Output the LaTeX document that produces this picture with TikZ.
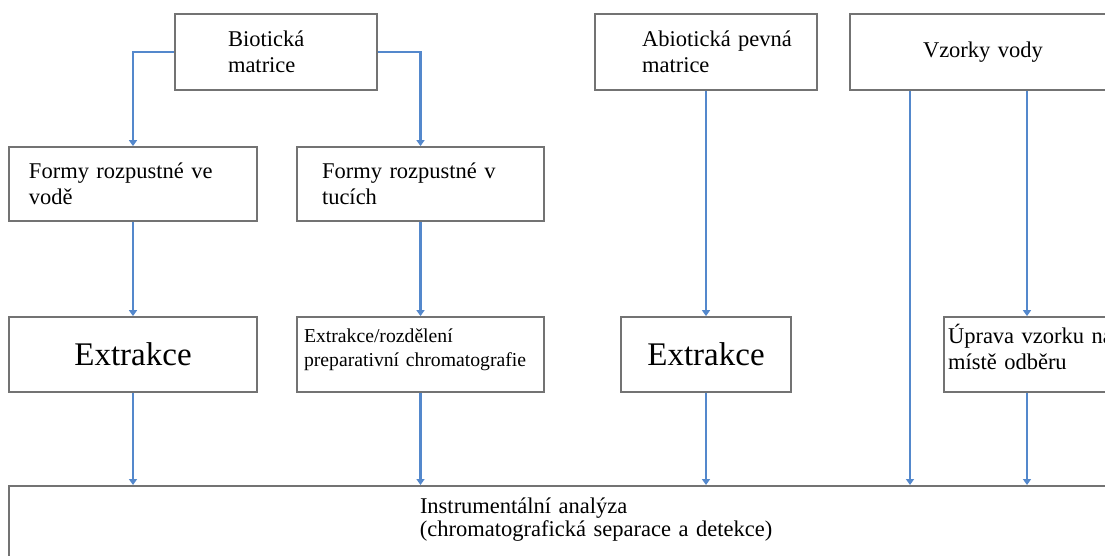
\documentclass[tikz,border=0pt]{standalone}
\usepackage{fontspec}
\setmainfont{Liberation Serif}
\usetikzlibrary{arrows.meta}
\definecolor{boxgray}{RGB}{115,115,115}
\definecolor{linkblue}{RGB}{84,136,204}
\newcommand\normfnt{\fontsize{22.5}{26}\selectfont}
\newcommand\smfnt{\fontsize{19.7}{24}\selectfont}
\newcommand\bigfnt{\fontsize{33}{38}\selectfont}
\newcommand\anfnt{\fontsize{22.5}{23}\selectfont}
\begin{document}
\begin{tikzpicture}[x=1pt,y=-1pt,
  box/.style={draw=boxgray,line width=1.8pt,fill=white,inner sep=0pt,minimum height=75pt,font=\normfnt},
  lbox/.style 2 args={box,text width=#1,align=left,execute at begin node={\leftskip=#2\relax}},
  cbox/.style={box,minimum width=#1,font=\bigfnt},
  link/.style={draw=linkblue,line width=2.2pt,-{Triangle[width=8pt,length=6pt]}}]
  \useasboundingbox (0,0) rectangle (1105,555);
  \clip (0,0) rectangle (1105,555);
  \node[lbox={202pt}{53pt},minimum height=76pt] (bio) at (276,52) {Biotická\\matrice};
  \node[lbox={222pt}{47pt},minimum height=76pt] (abio) at (706,52) {Abiotická pevná\\matrice};
  \node[lbox={300pt}{73pt},minimum height=76pt] (vzorky) at (1000,52) {Vzorky vody};
  \node[lbox={248pt}{20pt},minimum height=74pt] (vodni) at (133,184) {Formy rozpustné ve\\vodě};
  \node[lbox={247pt}{25pt},minimum height=74pt] (tuky) at (420.5,184) {Formy rozpustné v\\tucích};
  \node[cbox=248pt] (extr1) at (133,354.5) {Extrakce};
  \node[lbox={247pt}{7pt},font=\smfnt,text depth=38pt] (extr2) at (420.5,354.5) {Extrakce/rozdělení\\preparativní chromatografie};
  \node[cbox=170pt] (extr3) at (706,354.5) {Extrakce};
  \node[lbox={300pt}{4pt},text depth=42pt] (uprava) at (1094,354.5) {Úprava vzorku na\\místě odběru};
  \node[lbox={1141pt}{411pt},font=\anfnt,anchor=north,inner ysep=12pt,text depth=70pt] (analyza) at (579.5,485) {Instrumentální analýza\\(chromatografická separace a detekce)};
  \draw[link] (bio.west) -| (vodni.north);
  \draw[link] (bio.east) -| (tuky.north);
  \draw[link] (vodni.south) -- (extr1.north);
  \draw[link] (tuky.south) -- (extr2.north);
  \draw[link] (abio.south) -- (extr3.north);
  \draw[link] (extr1.south) -- (extr1.south |- analyza.north);
  \draw[link] (extr2.south) -- (extr2.south |- analyza.north);
  \draw[link] (extr3.south) -- (extr3.south |- analyza.north);
  \draw[link] ([xshift=-90pt]vzorky.south) -- ([xshift=-90pt]vzorky.south |- analyza.north);
  \draw[link] ([xshift=27pt]vzorky.south) -- ([xshift=27pt]vzorky.south |- uprava.north);
  \draw[link] ([xshift=27pt]vzorky.south |- uprava.south) -- ([xshift=27pt]vzorky.south |- analyza.north);
\end{tikzpicture}
\end{document}
